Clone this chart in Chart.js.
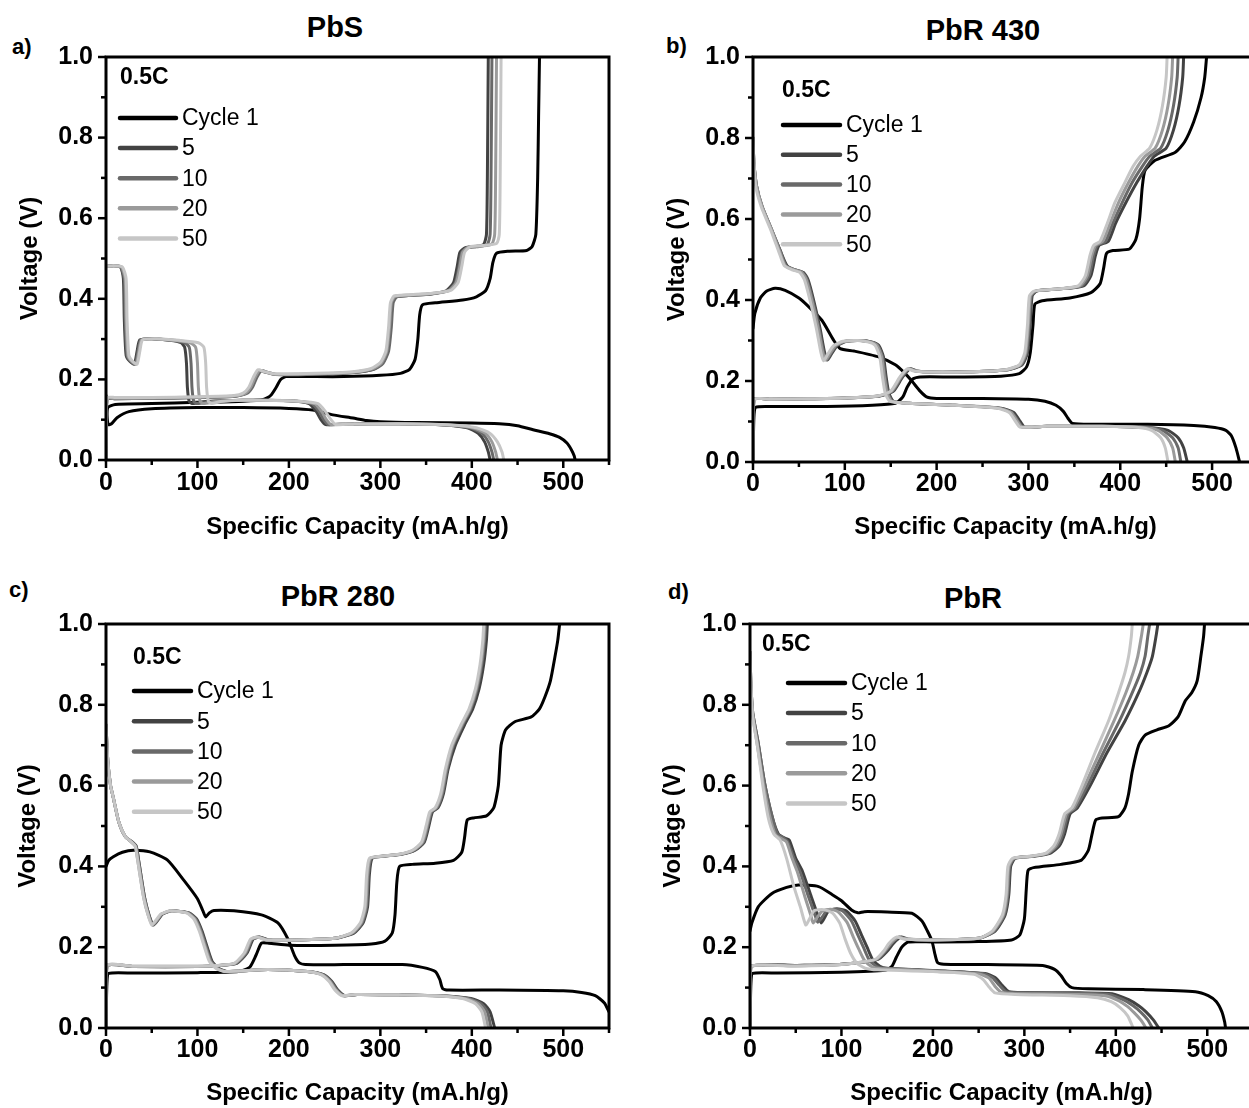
<!DOCTYPE html>
<html><head><meta charset="utf-8">
<script src="https://cdn.jsdelivr.net/npm/chart.js@4/dist/chart.umd.min.js"></script>
<style>
html,body{margin:0;padding:0;background:#fff;overflow:hidden;width:1249px;height:1108px;position:relative;font-family:"Liberation Sans",Arial,sans-serif;}
canvas{position:absolute;}
.t{position:absolute;font-weight:bold;font-size:29px;transform:translate(-50%,-50%);white-space:nowrap;color:#000;}
.l{position:absolute;font-weight:bold;font-size:22px;transform:translateY(-50%);color:#000;}
</style></head><body>
<div class="l" style="left:12px;top:47px">a)</div>
<div class="l" style="left:666px;top:46px">b)</div>
<div class="l" style="left:9px;top:590px">c)</div>
<div class="l" style="left:668px;top:592px">d)</div>
<div class="t" style="left:335px;top:27px">PbS</div>
<div class="t" style="left:983px;top:30px">PbR 430</div>
<div class="t" style="left:338px;top:596px">PbR 280</div>
<div class="t" style="left:973px;top:598px">PbR</div>
<canvas id="ca" width="640" height="560" style="left:0;top:0"></canvas>
<canvas id="cb" width="650" height="560" style="left:640px;top:0"></canvas>
<canvas id="cc" width="640" height="548" style="left:0;top:560px"></canvas>
<canvas id="cd" width="650" height="548" style="left:640px;top:560px"></canvas>
<script>
// ---------- labels ----------
const panelTitles = ['PbS','PbR 430','PbR 280','PbR'];
const xAxisTitle = 'Specific Capacity (mA.h/g)';
const yAxisTitle = 'Voltage (V)';
const rateLabel = '0.5C';
const cycleLabels = ['Cycle 1','5','10','20','50'];
const cycleColors = ['#000000','#424242','#696969','#9a9a9a','#c6c6c6'];
const xTickValues = [0,100,200,300,400,500];
const yTickValues = [0.0,0.2,0.4,0.6,0.8,1.0];

// ---------- panel a: PbS ----------
const a_c1_dis = [[0,0.16],[1,0.11],[2.5,0.088],[6,0.09],[12,0.105],[25,0.12],[50,0.127],[100,0.13],[150,0.13],[200,0.128],[226,0.124],[248,0.112],[270,0.104],[285,0.098],[300,0.095],[340,0.093],[400,0.092],[430,0.09],[450,0.085],[467,0.075],[485,0.065],[496,0.056],[504,0.042],[509,0.025],[512,0.01],[513,0]];
const a_c1_ch = [[0,0],[0.8,0.1],[2,0.13],[10,0.138],[50,0.14],[100,0.143],[150,0.146],[172,0.15],[180,0.16],[186,0.18],[191,0.2],[197,0.207],[220,0.207],[260,0.207],[300,0.21],[322,0.215],[332,0.225],[338,0.25],[341,0.3],[343,0.36],[346,0.385],[360,0.39],[390,0.397],[405,0.405],[415,0.42],[420,0.45],[423,0.49],[427,0.513],[440,0.518],[460,0.52],[466,0.53],[470,0.56],[472,0.7],[473,0.85],[474,1.0]];
const a_c5_dis = [[0,0.48],[8,0.482],[16,0.479],[19,0.45],[20,0.35],[22,0.26],[26,0.245],[31,0.238],[34,0.27],[37,0.298],[50,0.301],[70,0.297],[82,0.291],[86,0.28],[88,0.24],[89,0.18],[91,0.145],[95,0.14],[110,0.145],[150,0.148],[200,0.147],[222,0.14],[230,0.12],[235,0.1],[240,0.088],[260,0.089],[320,0.09],[370,0.087],[395,0.08],[407,0.066],[414,0.045],[418,0.02],[420,0]];
const a_c10_dis = [[0,0.48],[8,0.482],[16,0.479],[20,0.45],[21,0.35],[23,0.26],[27,0.245],[32,0.238],[35,0.27],[38,0.298],[50,0.301],[72,0.297],[86,0.291],[91,0.28],[93,0.24],[94,0.18],[96,0.145],[100,0.14],[115,0.145],[150,0.148],[200,0.147],[225,0.14],[233,0.12],[238,0.1],[243,0.088],[262,0.089],[320,0.09],[372,0.087],[398,0.08],[411,0.066],[418,0.045],[422,0.02],[424,0]];
const a_c20_dis = [[0,0.48],[8,0.482],[17,0.479],[21,0.45],[22,0.35],[24,0.26],[28,0.245],[33,0.238],[36,0.27],[39,0.298],[52,0.301],[75,0.297],[92,0.291],[98,0.28],[100,0.24],[101,0.18],[103,0.145],[107,0.14],[120,0.145],[150,0.148],[200,0.147],[228,0.14],[236,0.12],[241,0.1],[246,0.088],[265,0.089],[320,0.09],[375,0.087],[401,0.08],[415,0.066],[422,0.045],[426,0.02],[428,0]];
const a_c50_dis = [[0,0.48],[8,0.482],[18,0.479],[22,0.45],[23,0.35],[25,0.26],[29,0.245],[34,0.238],[37,0.27],[40,0.298],[55,0.301],[80,0.297],[101,0.291],[107,0.28],[109,0.24],[110,0.18],[112,0.145],[116,0.14],[125,0.145],[150,0.148],[200,0.147],[232,0.14],[240,0.12],[246,0.1],[251,0.088],[270,0.089],[320,0.09],[378,0.087],[405,0.08],[420,0.066],[428,0.045],[433,0.02],[435,0]];
const a_c5_ch = [[0,0],[0.5,0.1],[1.5,0.152],[10,0.152],[50,0.153],[100,0.155],[140,0.158],[152,0.165],[158,0.18],[163,0.205],[168,0.222],[174,0.218],[185,0.212],[230,0.213],[270,0.217],[292,0.225],[302,0.24],[308,0.27],[311,0.33],[313,0.39],[317,0.405],[330,0.408],[355,0.412],[372,0.42],[380,0.44],[384,0.48],[387,0.515],[393,0.527],[405,0.53],[413,0.535],[416,0.56],[417,0.7],[418,1.0]];
const a_c10_ch = [[0,0],[0.5,0.1],[1.5,0.152],[10,0.152],[50,0.153],[100,0.155],[140,0.158],[154,0.165],[160,0.18],[165,0.205],[170,0.222],[176,0.218],[187,0.212],[230,0.213],[270,0.217],[293,0.225],[303,0.24],[309,0.27],[312,0.33],[314,0.39],[318,0.405],[331,0.408],[356,0.412],[374,0.42],[382,0.44],[386,0.48],[389,0.515],[395,0.527],[408,0.53],[417,0.535],[420,0.56],[421,0.7],[422,1.0]];
const a_c20_ch = [[0,0],[0.5,0.1],[1.5,0.153],[10,0.153],[50,0.154],[100,0.156],[140,0.159],[152,0.165],[158,0.18],[163,0.205],[168,0.223],[174,0.219],[185,0.213],[230,0.214],[270,0.218],[291,0.226],[301,0.24],[307,0.27],[310,0.33],[312,0.39],[316,0.406],[330,0.409],[356,0.413],[375,0.42],[383,0.44],[387,0.48],[390,0.515],[396,0.528],[410,0.531],[422,0.536],[425,0.56],[426,0.7],[427,1.0]];
const a_c50_ch = [[0,0],[0.5,0.1],[1.5,0.155],[10,0.155],[50,0.155],[100,0.157],[140,0.16],[150,0.166],[156,0.18],[161,0.205],[166,0.224],[172,0.22],[183,0.214],[230,0.215],[270,0.219],[290,0.227],[300,0.242],[306,0.27],[309,0.33],[311,0.39],[315,0.407],[330,0.41],[357,0.414],[377,0.421],[385,0.44],[389,0.48],[392,0.515],[398,0.529],[412,0.532],[427,0.537],[430,0.56],[431,0.7],[432,1.0]];

// ---------- panel b: PbR 430 ----------
const b_c1_dis = [[0,0.33],[2,0.367],[8,0.405],[15,0.422],[24,0.429],[35,0.424],[50,0.405],[60,0.385],[75,0.35],[88,0.3],[95,0.28],[110,0.274],[136,0.26],[155,0.24],[165,0.22],[173,0.2],[182,0.175],[189,0.161],[200,0.157],[250,0.157],[300,0.155],[318,0.15],[330,0.14],[338,0.125],[343,0.108],[348,0.095],[370,0.093],[430,0.093],[480,0.09],[503,0.085],[515,0.078],[521,0.065],[526,0.035],[530,0]];
const b_c1_ch = [[0,0],[1,0.11],[3,0.135],[20,0.137],[80,0.137],[130,0.14],[155,0.145],[163,0.16],[168,0.185],[174,0.205],[182,0.21],[220,0.21],[270,0.212],[290,0.218],[298,0.235],[302,0.27],[305,0.34],[307,0.39],[315,0.398],[345,0.405],[368,0.418],[378,0.44],[382,0.48],[385,0.515],[392,0.522],[410,0.526],[417,0.55],[421,0.6],[424,0.68],[427,0.72],[438,0.745],[460,0.765],[470,0.79],[480,0.84],[488,0.9],[492,0.95],[494,1.0]];
const b_c5_dis = [[0,0.8],[1,0.74],[4,0.68],[10,0.63],[20,0.575],[30,0.52],[37,0.485],[45,0.475],[55,0.468],[60,0.45],[66,0.4],[73,0.33],[78,0.27],[81,0.252],[85,0.265],[92,0.288],[102,0.298],[118,0.3],[130,0.296],[137,0.288],[142,0.26],[145,0.21],[148,0.17],[153,0.15],[170,0.145],[220,0.14],[270,0.133],[284,0.122],[291,0.1],[296,0.086],[320,0.088],[380,0.088],[430,0.085],[452,0.078],[463,0.06],[469,0.035],[473,0]];
const b_c10_dis = [[0,0.8],[1,0.74],[4,0.68],[10,0.63],[20,0.575],[30,0.52],[36,0.485],[45,0.475],[54,0.468],[59,0.45],[65,0.4],[72,0.33],[77,0.27],[80,0.252],[84,0.265],[91,0.288],[101,0.298],[117,0.3],[129,0.296],[136,0.288],[141,0.26],[144,0.21],[147,0.17],[152,0.15],[170,0.145],[220,0.14],[268,0.133],[282,0.122],[289,0.1],[294,0.086],[320,0.088],[380,0.088],[428,0.085],[446,0.078],[457,0.06],[463,0.035],[466,0]];
const b_c20_dis = [[0,0.8],[1,0.74],[4,0.68],[10,0.63],[20,0.575],[29,0.52],[35,0.485],[44,0.475],[53,0.468],[58,0.45],[64,0.4],[71,0.33],[76,0.27],[79,0.252],[83,0.265],[90,0.288],[100,0.298],[116,0.3],[128,0.296],[135,0.288],[140,0.26],[143,0.21],[146,0.17],[151,0.15],[170,0.145],[220,0.14],[267,0.133],[281,0.122],[288,0.1],[293,0.086],[320,0.088],[380,0.088],[425,0.085],[441,0.078],[451,0.06],[457,0.035],[460,0]];
const b_c50_dis = [[0,0.8],[1,0.74],[3,0.68],[9,0.63],[19,0.575],[28,0.52],[34,0.485],[42,0.475],[51,0.468],[56,0.45],[62,0.4],[69,0.33],[74,0.27],[77,0.25],[81,0.265],[88,0.288],[98,0.298],[114,0.3],[126,0.296],[133,0.288],[138,0.26],[141,0.21],[144,0.17],[149,0.15],[170,0.145],[220,0.14],[265,0.133],[279,0.122],[286,0.1],[291,0.086],[320,0.088],[380,0.088],[420,0.085],[434,0.078],[444,0.06],[449,0.035],[452,0]];
const b_c5_ch = [[0,0],[0.5,0.1],[1.5,0.155],[20,0.155],[60,0.156],[100,0.158],[138,0.163],[153,0.175],[163,0.21],[171,0.23],[178,0.225],[193,0.222],[240,0.223],[278,0.228],[293,0.24],[299,0.27],[302,0.34],[304,0.41],[309,0.422],[333,0.427],[360,0.435],[368,0.46],[373,0.51],[377,0.535],[387,0.545],[395,0.59],[406,0.64],[418,0.69],[429,0.73],[437,0.755],[450,0.775],[458,0.82],[464,0.88],[468,0.95],[469,1.0]];
const b_c10_ch = [[0,0],[0.5,0.1],[1.5,0.155],[20,0.155],[60,0.156],[100,0.158],[137,0.163],[152,0.175],[162,0.21],[170,0.23],[177,0.225],[192,0.222],[240,0.223],[277,0.228],[292,0.24],[298,0.27],[301,0.34],[303,0.41],[308,0.422],[332,0.427],[358,0.435],[366,0.46],[371,0.51],[375,0.535],[384,0.545],[392,0.59],[402,0.64],[413,0.69],[424,0.73],[432,0.755],[444,0.775],[452,0.82],[458,0.88],[462,0.95],[463,1.0]];
const b_c20_ch = [[0,0],[0.5,0.1],[1.5,0.155],[20,0.155],[60,0.156],[100,0.158],[136,0.163],[151,0.175],[161,0.21],[169,0.23],[176,0.225],[191,0.222],[240,0.223],[276,0.228],[291,0.24],[297,0.27],[300,0.34],[302,0.41],[307,0.422],[331,0.427],[356,0.435],[364,0.46],[369,0.51],[373,0.535],[381,0.545],[389,0.59],[398,0.64],[409,0.69],[419,0.73],[427,0.755],[438,0.775],[446,0.82],[452,0.88],[456,0.95],[457,1.0]];
const b_c50_ch = [[0,0],[0.5,0.1],[1.5,0.155],[20,0.155],[60,0.156],[100,0.158],[135,0.163],[150,0.175],[160,0.21],[168,0.23],[175,0.225],[190,0.222],[240,0.223],[275,0.228],[290,0.24],[296,0.27],[299,0.34],[301,0.41],[306,0.422],[330,0.427],[354,0.435],[362,0.46],[367,0.51],[371,0.535],[378,0.545],[386,0.59],[394,0.64],[405,0.69],[414,0.73],[422,0.755],[432,0.775],[440,0.82],[446,0.88],[450,0.95],[451,1.0]];

// ---------- panel c: PbR 280 ----------
const c_c1_dis = [[0,0.4],[3,0.415],[8,0.424],[18,0.435],[30,0.44],[48,0.436],[67,0.416],[85,0.366],[100,0.32],[106,0.29],[109,0.275],[113,0.285],[118,0.291],[140,0.29],[170,0.28],[188,0.26],[199,0.22],[206,0.18],[211,0.162],[218,0.157],[260,0.157],[324,0.157],[346,0.15],[360,0.14],[365,0.12],[368,0.098],[375,0.094],[430,0.094],[500,0.092],[520,0.088],[535,0.08],[545,0.062],[550,0.04]];
const c_c1_ch = [[0,0],[1,0.11],[3,0.135],[30,0.136],[100,0.137],[145,0.14],[157,0.15],[164,0.18],[170,0.21],[178,0.21],[200,0.205],[250,0.205],[290,0.208],[305,0.215],[313,0.235],[316,0.28],[318,0.36],[321,0.4],[335,0.405],[360,0.408],[380,0.415],[389,0.435],[392,0.47],[395,0.515],[402,0.52],[416,0.525],[424,0.545],[429,0.6],[432,0.7],[437,0.738],[447,0.758],[465,0.77],[474,0.79],[480,0.82],[486,0.86],[491,0.92],[494,0.96],[496,1.0]];
const c_c5_dis = [[0,0.75],[2,0.66],[5,0.6],[8,0.57],[14,0.51],[21,0.474],[29,0.46],[33,0.45],[36,0.41],[42,0.325],[47,0.28],[52,0.255],[57,0.268],[62,0.282],[72,0.29],[91,0.285],[99,0.27],[105,0.24],[110,0.205],[116,0.165],[123,0.148],[132,0.14],[177,0.145],[220,0.14],[238,0.132],[247,0.115],[253,0.095],[261,0.08],[275,0.083],[320,0.082],[366,0.08],[399,0.073],[413,0.06],[420,0.04],[425,0]];
const c_c10_dis = [[0,0.75],[2,0.66],[5,0.6],[8,0.57],[14,0.51],[21,0.474],[28,0.46],[33,0.45],[36,0.41],[42,0.325],[47,0.28],[51,0.255],[56,0.268],[61,0.282],[71,0.29],[90,0.285],[98,0.27],[104,0.24],[109,0.205],[115,0.165],[122,0.148],[131,0.14],[177,0.145],[220,0.14],[237,0.132],[246,0.115],[252,0.095],[260,0.08],[274,0.083],[320,0.082],[364,0.08],[396,0.073],[410,0.06],[417,0.04],[421,0]];
const c_c20_dis = [[0,0.75],[2,0.66],[5,0.6],[8,0.57],[14,0.51],[21,0.474],[28,0.46],[32,0.45],[35,0.41],[41,0.325],[46,0.28],[51,0.255],[56,0.268],[61,0.282],[71,0.29],[89,0.285],[97,0.27],[103,0.24],[108,0.205],[114,0.165],[121,0.148],[130,0.14],[177,0.145],[220,0.14],[236,0.132],[245,0.115],[251,0.095],[259,0.08],[273,0.083],[320,0.082],[362,0.08],[393,0.073],[407,0.06],[414,0.04],[418,0]];
const c_c50_dis = [[0,0.75],[2,0.66],[5,0.6],[8,0.57],[14,0.51],[21,0.474],[28,0.46],[32,0.45],[35,0.41],[41,0.325],[46,0.28],[50,0.255],[55,0.268],[60,0.282],[70,0.29],[88,0.285],[96,0.27],[102,0.24],[107,0.205],[113,0.165],[120,0.148],[129,0.14],[177,0.145],[220,0.14],[235,0.132],[244,0.115],[250,0.095],[258,0.08],[272,0.083],[320,0.082],[360,0.08],[390,0.073],[404,0.06],[411,0.04],[415,0]];
const c_c5_ch = [[0,0],[0.5,0.1],[1.5,0.155],[30,0.152],[100,0.152],[125,0.155],[143,0.16],[154,0.185],[161,0.22],[168,0.225],[178,0.218],[210,0.218],[250,0.222],[271,0.235],[281,0.26],[286,0.3],[288,0.38],[291,0.42],[303,0.425],[323,0.43],[338,0.44],[348,0.46],[353,0.5],[357,0.535],[363,0.545],[369,0.58],[374,0.64],[382,0.7],[392,0.75],[401,0.79],[408,0.84],[413,0.9],[416,0.96],[417,1.0]];
const c_c10_ch = [[0,0],[0.5,0.1],[1.5,0.155],[30,0.152],[100,0.152],[124,0.155],[142,0.16],[153,0.185],[160,0.22],[167,0.225],[177,0.218],[210,0.218],[250,0.222],[270,0.235],[280,0.26],[285,0.3],[287,0.38],[290,0.42],[302,0.425],[322,0.43],[337,0.44],[347,0.46],[352,0.5],[356,0.535],[362,0.545],[368,0.58],[373,0.64],[380,0.7],[390,0.75],[399,0.79],[406,0.84],[411,0.9],[414,0.96],[415,1.0]];
const c_c20_ch = [[0,0],[0.5,0.1],[1.5,0.156],[30,0.153],[100,0.153],[123,0.155],[141,0.16],[152,0.185],[159,0.22],[166,0.225],[176,0.218],[210,0.218],[250,0.222],[269,0.235],[279,0.26],[284,0.3],[286,0.38],[289,0.42],[301,0.425],[321,0.43],[336,0.44],[346,0.46],[351,0.5],[355,0.535],[361,0.545],[367,0.58],[372,0.64],[379,0.7],[389,0.75],[398,0.79],[405,0.84],[410,0.9],[413,0.96],[414,1.0]];
const c_c50_ch = [[0,0],[0.5,0.1],[1.5,0.156],[30,0.153],[100,0.153],[122,0.155],[140,0.16],[151,0.185],[158,0.22],[165,0.225],[175,0.218],[210,0.218],[250,0.222],[268,0.235],[278,0.26],[283,0.3],[285,0.38],[288,0.42],[300,0.425],[320,0.43],[335,0.44],[345,0.46],[350,0.5],[354,0.535],[360,0.545],[366,0.58],[371,0.64],[378,0.7],[388,0.75],[397,0.79],[404,0.84],[409,0.9],[412,0.96],[413,1.0]];

// ---------- panel d: PbR ----------
const d_c1_dis = [[0,0.24],[2,0.26],[9,0.3],[24,0.333],[40,0.348],[53,0.354],[75,0.35],[90,0.33],[100,0.315],[111,0.292],[118,0.285],[125,0.288],[150,0.287],[177,0.284],[188,0.265],[194,0.24],[199,0.215],[202,0.185],[205,0.162],[212,0.158],[260,0.157],[320,0.155],[333,0.145],[340,0.13],[346,0.11],[352,0.1],[370,0.097],[430,0.095],[487,0.09],[501,0.08],[510,0.065],[516,0.04],[519,0.015],[520,0]];
const d_c1_ch = [[0,0],[1,0.11],[3,0.135],[30,0.136],[100,0.138],[148,0.143],[155,0.152],[160,0.175],[166,0.2],[173,0.213],[200,0.213],[250,0.214],[286,0.218],[295,0.23],[300,0.27],[302,0.34],[304,0.39],[310,0.397],[340,0.405],[362,0.415],[370,0.44],[374,0.48],[378,0.515],[385,0.52],[403,0.523],[410,0.545],[414,0.58],[418,0.635],[425,0.7],[432,0.725],[445,0.738],[458,0.748],[468,0.77],[476,0.81],[483,0.83],[489,0.86],[493,0.92],[496,0.97],[497,1.0]];
const d_c5_dis = [[0,0.93],[1,0.85],[3,0.78],[9,0.705],[16,0.606],[24,0.525],[31,0.48],[38,0.47],[43,0.465],[50,0.42],[57,0.39],[67,0.325],[74,0.28],[78,0.26],[82,0.275],[86,0.29],[95,0.295],[105,0.29],[115,0.265],[122,0.23],[128,0.2],[134,0.17],[142,0.153],[150,0.148],[213,0.141],[257,0.135],[268,0.125],[276,0.105],[283,0.09],[300,0.088],[360,0.087],[396,0.085],[414,0.07],[425,0.055],[433,0.04],[441,0.02],[447,0]];
const d_c10_dis = [[0,0.93],[1,0.85],[3,0.78],[9,0.705],[16,0.606],[24,0.525],[30,0.48],[37,0.47],[41,0.462],[48,0.42],[55,0.385],[64,0.325],[71,0.28],[74,0.262],[79,0.275],[84,0.29],[92,0.294],[101,0.29],[111,0.265],[118,0.23],[124,0.2],[130,0.17],[138,0.153],[146,0.148],[210,0.141],[254,0.135],[265,0.125],[273,0.105],[280,0.09],[298,0.087],[360,0.086],[392,0.083],[408,0.07],[419,0.055],[427,0.04],[435,0.02],[440,0]];
const d_c20_dis = [[0,0.93],[1,0.85],[3,0.775],[8,0.7],[15,0.6],[22,0.52],[28,0.478],[35,0.468],[40,0.46],[46,0.42],[52,0.385],[60,0.325],[67,0.275],[69,0.26],[74,0.275],[79,0.29],[88,0.294],[96,0.288],[106,0.262],[113,0.225],[119,0.195],[125,0.168],[133,0.152],[142,0.147],[205,0.14],[250,0.134],[261,0.124],[268,0.103],[275,0.088],[294,0.085],[355,0.083],[388,0.08],[403,0.068],[413,0.053],[420,0.038],[428,0.018],[433,0]];
const d_c50_dis = [[0,0.93],[1,0.85],[3,0.77],[8,0.7],[14,0.6],[20,0.52],[26,0.48],[33,0.465],[40,0.42],[48,0.35],[55,0.3],[61,0.255],[65,0.27],[70,0.29],[80,0.293],[90,0.285],[98,0.26],[104,0.22],[110,0.185],[117,0.16],[126,0.148],[140,0.144],[200,0.14],[245,0.133],[255,0.12],[262,0.1],[268,0.087],[290,0.083],[350,0.08],[380,0.075],[395,0.065],[405,0.05],[413,0.03],[419,0]];
const d_c5_ch = [[0,0],[0.5,0.1],[1.5,0.153],[50,0.155],[100,0.158],[140,0.17],[150,0.19],[157,0.21],[165,0.225],[173,0.22],[200,0.218],[250,0.222],[268,0.24],[279,0.28],[283,0.33],[285,0.4],[290,0.42],[310,0.425],[328,0.432],[338,0.45],[344,0.48],[350,0.53],[358,0.545],[372,0.6],[390,0.68],[410,0.76],[425,0.83],[434,0.88],[440,0.92],[444,0.97],[446,1.0]];
const d_c10_ch = [[0,0],[0.5,0.1],[1.5,0.153],[50,0.155],[100,0.158],[139,0.17],[148,0.19],[155,0.21],[163,0.225],[171,0.22],[200,0.218],[250,0.222],[267,0.24],[278,0.28],[282,0.33],[284,0.4],[289,0.42],[308,0.425],[326,0.432],[336,0.45],[342,0.48],[348,0.53],[356,0.545],[369,0.6],[386,0.68],[404,0.76],[418,0.83],[427,0.88],[432,0.92],[435,0.97],[437,1.0]];
const d_c20_ch = [[0,0],[0.5,0.1],[1.5,0.153],[50,0.154],[100,0.157],[138,0.17],[147,0.19],[154,0.21],[162,0.225],[170,0.22],[200,0.218],[250,0.222],[266,0.24],[277,0.28],[281,0.33],[283,0.4],[288,0.42],[307,0.425],[325,0.432],[334,0.45],[340,0.48],[346,0.53],[354,0.545],[366,0.6],[382,0.68],[398,0.76],[411,0.83],[419,0.88],[424,0.92],[428,0.97],[430,1.0]];
const d_c50_ch = [[0,0],[0.5,0.1],[1.5,0.153],[50,0.153],[100,0.157],[137,0.17],[146,0.19],[152,0.21],[160,0.225],[168,0.22],[200,0.218],[250,0.222],[265,0.24],[276,0.28],[280,0.33],[282,0.4],[287,0.42],[305,0.425],[323,0.432],[332,0.45],[338,0.48],[344,0.53],[352,0.545],[363,0.6],[377,0.68],[392,0.76],[403,0.83],[410,0.88],[414,0.92],[417,0.97],[418,1.0]];

// ---------- assemble ----------
const FONT = '"Liberation Sans", Arial, sans-serif';
const panelData = [
  {dis:[a_c1_dis,a_c5_dis,a_c10_dis,a_c20_dis,a_c50_dis], ch:[a_c1_ch,a_c5_ch,a_c10_ch,a_c20_ch,a_c50_ch]},
  {dis:[b_c1_dis,b_c5_dis,b_c10_dis,b_c20_dis,b_c50_dis], ch:[b_c1_ch,b_c5_ch,b_c10_ch,b_c20_ch,b_c50_ch]},
  {dis:[c_c1_dis,c_c5_dis,c_c10_dis,c_c20_dis,c_c50_dis], ch:[c_c1_ch,c_c5_ch,c_c10_ch,c_c20_ch,c_c50_ch]},
  {dis:[d_c1_dis,d_c5_dis,d_c10_dis,d_c20_dis,d_c50_dis], ch:[d_c1_ch,d_c5_ch,d_c10_ch,d_c20_ch,d_c50_ch]}
];
const panelLayout = [
  {id:'ca', top:57, right:31, yW:106, xH:100, yTitlePad:15.6, xTitlePad:18.6, xTickPad:8, lg:{tx:120,ty:78,x1:120,x2:176,textX:182,rowY:118,dy:30.1}},
  {id:'cb', top:57, right:32, yW:113, xH:98, yTitlePad:22.6, xTitlePad:18.6, xTickPad:7, lg:{tx:142,ty:91,x1:143,x2:200,textX:206,rowY:125,dy:29.8}},
  {id:'cc', top:64, right:31, yW:106, xH:80, yTitlePad:13.6, xTitlePad:0.6, xTickPad:7, lg:{tx:133,ty:97.5,x1:134,x2:191,textX:197,rowY:131,dy:30.2}},
  {id:'cd', top:64, right:37, yW:110, xH:80, yTitlePad:18.6, xTitlePad:0.6, xTickPad:7, lg:{tx:122,ty:85,x1:148,x2:205,textX:211,rowY:123,dy:30.1}}
];

// frame + outward tick marks (major long, minor short), positioned via the chart's scales
const framePlugin = {
  id:'frame',
  afterDraw(chart){
    const a = chart.chartArea, ctx = chart.ctx;
    const xs = chart.scales.x, ys = chart.scales.y;
    ctx.save(); ctx.strokeStyle='#000'; ctx.lineWidth=2.5; ctx.lineCap='butt';
    xs.ticks.forEach(t=>{
      const px = xs.getPixelForValue(t.value);
      const len = xTickValues.includes(t.value) ? 8 : 5;
      ctx.beginPath(); ctx.moveTo(px, a.bottom); ctx.lineTo(px, a.bottom+len); ctx.stroke();
    });
    ys.ticks.forEach(t=>{
      const py = ys.getPixelForValue(t.value);
      const len = yTickValues.some(v=>Math.abs(v-t.value)<1e-6) ? 8 : 5;
      ctx.beginPath(); ctx.moveTo(a.left, py); ctx.lineTo(a.left-len, py); ctx.stroke();
    });
    ctx.lineWidth=3;
    ctx.strokeRect(a.left, a.top, a.right-a.left, a.bottom-a.top);
    ctx.restore();
  }
};
const legendPlugin = {
  id:'cycleLegend',
  afterDraw(chart, args, o){
    const ctx = chart.ctx;
    ctx.save();
    ctx.fillStyle='#000'; ctx.textBaseline='middle'; ctx.textAlign='left';
    ctx.font = 'bold 23px ' + FONT;
    ctx.fillText(rateLabel, o.tx, o.ty);
    ctx.font = '23px ' + FONT;
    cycleLabels.forEach((lab,i)=>{
      const y = o.rowY + i*o.dy;
      ctx.strokeStyle = cycleColors[i]; ctx.lineWidth = 4.5; ctx.lineCap='round';
      ctx.beginPath(); ctx.moveTo(o.x1,y); ctx.lineTo(o.x2,y); ctx.stroke();
      ctx.fillStyle='#000';
      ctx.fillText(lab, o.textX, y+1);
    });
    ctx.restore();
  }
};

function toXY(arr){ return arr.map(p=>({x:p[0], y:p[1]})); }

panelData.forEach((pd, pi)=>{
  const L = panelLayout[pi];
  const datasets = [];
  for (let i=0;i<5;i++){
    ['dis','ch'].forEach(k=>{
      datasets.push({
        label: cycleLabels[i],
        data: toXY(pd[k][i]),
        showLine:true, borderColor:cycleColors[i], backgroundColor:cycleColors[i],
        borderWidth:3, pointRadius:0, pointHoverRadius:0, tension:0.2, fill:false,
        order: 10 - i, borderCapStyle:'round', borderJoinStyle:'round'
      });
    });
  }
  new Chart(document.getElementById(L.id), {
    type:'scatter',
    data:{datasets},
    options:{
      responsive:false, animation:false, devicePixelRatio:1,
      layout:{padding:{left:0, top:L.top, right:L.right, bottom:0}},
      plugins:{legend:{display:false}, tooltip:{enabled:false}, cycleLegend:L.lg},
      scales:{
        x:{type:'linear', min:0, max:550,
          afterBuildTicks: s => { s.ticks = []; for (let v=0; v<=550; v+=50) s.ticks.push({value:v}); },
          ticks:{autoSkip:false, maxRotation:0, padding:L.xTickPad, color:'#000',
            font:{family:FONT, size:25, weight:'bold'},
            callback: v => xTickValues.includes(v) ? String(v) : ''},
          grid:{display:false, drawTicks:false, tickLength:0},
          border:{display:false},
          title:{display:true, text:xAxisTitle, color:'#000', font:{family:FONT, size:24, weight:'bold'}, padding:{top:0, bottom:L.xTitlePad}},
          afterFit: s => { s.height = L.xH; }
        },
        y:{type:'linear', min:0, max:1,
          afterBuildTicks: s => { s.ticks = []; for (let k=0; k<=10; k++) s.ticks.push({value:k/10}); },
          ticks:{autoSkip:false, padding:13, color:'#000',
            font:{family:FONT, size:25, weight:'bold'},
            callback: v => yTickValues.some(t=>Math.abs(t-v)<1e-6) ? v.toFixed(1) : ''},
          grid:{display:false, drawTicks:false, tickLength:0},
          border:{display:false},
          title:{display:true, text:yAxisTitle, color:'#000', font:{family:FONT, size:24, weight:'bold'}, padding:{top:L.yTitlePad, bottom:0}},
          afterFit: s => { s.width = L.yW; }
        }
      }
    },
    plugins:[framePlugin, legendPlugin]
  });
});
</script>
</body></html>
